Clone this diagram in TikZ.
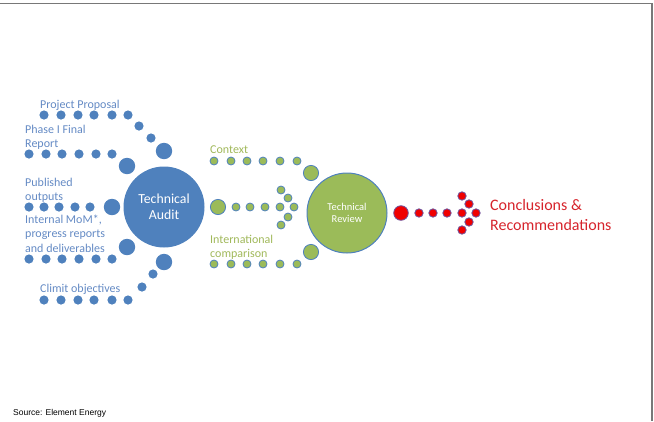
\documentclass[tikz,border=0pt]{standalone}
\usepackage{fontspec}
\setmainfont{Carlito}
\newfontfamily\sourcefont{Liberation Sans}
\usepackage{tikz}
\usetikzlibrary{positioning}
\definecolor{auditblue}{RGB}{79,129,189}
\definecolor{labelblue}{RGB}{100,138,196}
\definecolor{reviewgreen}{RGB}{155,187,89}
\definecolor{labelgreen}{RGB}{160,184,90}
\definecolor{conclred}{RGB}{214,36,44}
\definecolor{dotred}{RGB}{240,0,0}
\definecolor{dotrim}{RGB}{110,85,160}
\definecolor{framegray}{RGB}{120,120,120}

\begin{document}
\begin{tikzpicture}[x=1pt, y=-1pt,
  bluelabel/.style={anchor=north west, inner sep=0pt, text=labelblue, font=\fontsize{12}{14.5}\selectfont, align=left},
  greenlabel/.style={anchor=north west, inner sep=0pt, text=labelgreen, font=\fontsize{12}{14.5}\selectfont, align=left},
  hub/.style={circle, inner sep=0pt, text=white, align=center},
  gdot/.style={fill=reviewgreen, draw=auditblue, line width=0.8pt},
  rdot/.style={fill=dotred, draw=dotrim, line width=0.8pt}]
\useasboundingbox (0,0) rectangle (654,421);
% frame
\draw[framegray, line width=1.3pt] (0,3.5) -- (652,3.5) -- (652,421);

% Technical Audit and its feeders
\node[hub, fill=auditblue, minimum size=81pt, font=\fontsize{13.8}{15.5}\selectfont] (audit) at (164,207) {Technical\\Audit};
\node[bluelabel] (proposal) at (40,99.5) {Project Proposal};
\node[bluelabel] (phase) at (25,124.5) {Phase I Final\\Report};
\node[bluelabel] (published) at (25,177.5) {Published\\outputs};
\node[bluelabel] (internal) at (25,214.5) {Internal MoM*,\\progress reports\\and deliverables};
\node[bluelabel] (climit) at (40,283.5) {Climit objectives};
\foreach \x in {44,61,78,94,112,128} {
  \fill[auditblue] (\x,115) circle (4.6);
  \fill[auditblue] (\x,300) circle (4.6);
}
\foreach \x in {29,46,62,79,96,112} {
  \fill[auditblue] (\x,154) circle (4.6);
  \fill[auditblue] (\x,259) circle (4.6);
}
\foreach \x in {29,44,59,75,90}
  \fill[auditblue] (\x,207) circle (4.6);
\fill[auditblue] (139,126) circle (4.6);
\fill[auditblue] (151,138) circle (4.6);
\fill[auditblue] (142,287) circle (4.6);
\fill[auditblue] (153,274) circle (4.6);
\foreach \p in {(164,151),(127,166),(112,207),(127,247),(164,262)}
  \fill[auditblue] \p circle (8.2);

% Technical Review and its feeders
\node[hub, fill=reviewgreen, draw=auditblue, line width=1pt, minimum size=80pt, font=\fontsize{10.5}{12}\selectfont] (review) at (347,213) {Technical\\Review};
\node[greenlabel] (context) at (210,145.5) {Context};
\node[greenlabel] (intl) at (210,234.5) {International\\comparison};
\foreach \x in {214,231,247,263,280,297} {
  \filldraw[gdot] (\x,161) circle (4);
  \filldraw[gdot] (\x,264) circle (4);
}
\foreach \p in {(236,207),(250,207),(265,207),(280,207),(294,207),(281,190),(288,198),(288,217),(281,225)}
  \filldraw[gdot] \p circle (4);
\foreach \p in {(218,207),(311,173),(311,252)}
  \filldraw[gdot] \p circle (7.6);

% Conclusions
\filldraw[rdot] (401,213) circle (7.3);
\foreach \p in {(419,213),(433,213),(447,213),(462,196),(469,204),(462,213),(476,213),(469,222),(462,230)}
  \filldraw[rdot] \p circle (4.2);
\node[anchor=west, inner sep=0pt, text=conclred, align=left, font=\fontsize{16}{20}\selectfont] (concl) at (490,215) {Conclusions \&\\Recommendations};

% source
\node[anchor=south west, inner sep=0pt, font=\sourcefont\fontsize{8.5}{10}\selectfont] (source) at (13,417) {Source: Element Energy};
\end{tikzpicture}
\end{document}
